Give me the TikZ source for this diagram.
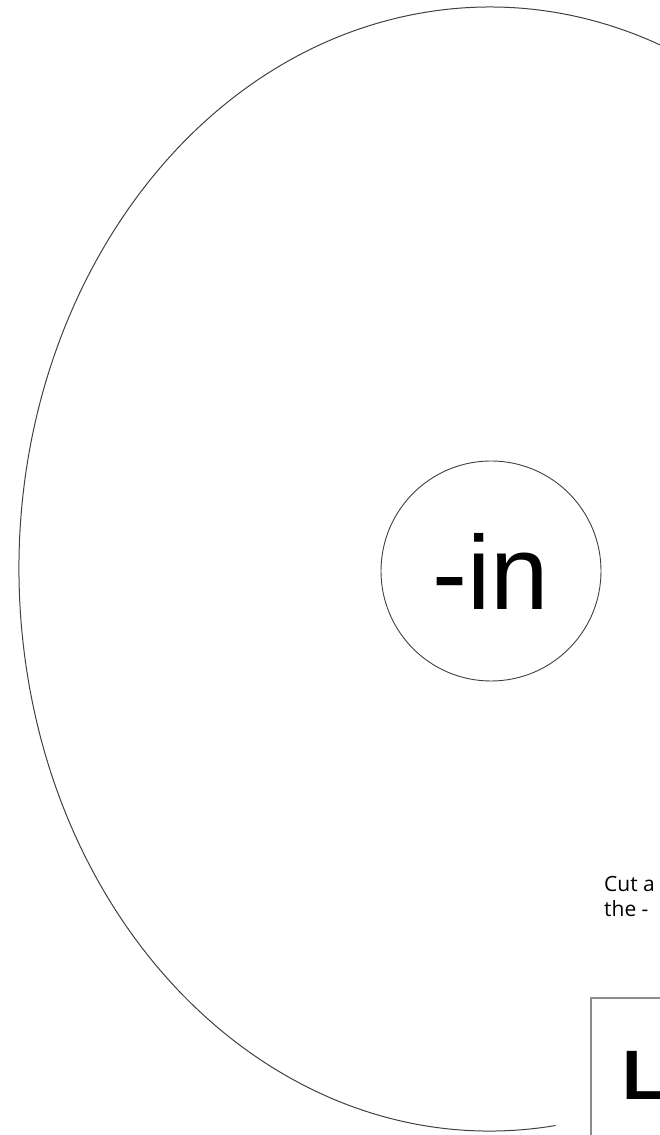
\documentclass[tikz,border=0pt]{standalone}
\usepackage{fontspec}
\setmainfont{Liberation Sans}
\newfontfamily\notefont{Open Sans}

\tikzset{
    outline/.style={draw=black!75, line width=1pt},
    hole/.style={circle, draw=black!75, line width=0.9pt, minimum size=220pt, inner sep=0pt},
    note/.style={anchor=base west, inner sep=0pt, font=\notefont\fontsize{21}{25}\selectfont},
    labelbox/.style={draw=black!45, line width=1.5pt},
}

\begin{document}
\begin{tikzpicture}[x=1pt, y=1pt]

    \useasboundingbox (0,0) rectangle (660,1135);

    % outer ring: cut off on the right, open near the label box
    \draw[outline] (490,566) ++(-82:471 and 562)
        arc[start angle=-82, end angle=-360, x radius=471, y radius=562];

    % centre hole
    \node[hole, font=\fontsize{105}{110}\selectfont] (hole) at (491,564) {-in};

    % instruction text
    \node[note] (cut) at (604,243) {Cut a};
    \node[note] (the) at (604,218) {the -};

    % label box
    \draw[labelbox] (591,137) rectangle (720,-30);
    \node[anchor=base west, inner sep=0pt, font=\bfseries\fontsize{70}{80}\selectfont] (tag) at (622,35) {L-};

\end{tikzpicture}
\end{document}
